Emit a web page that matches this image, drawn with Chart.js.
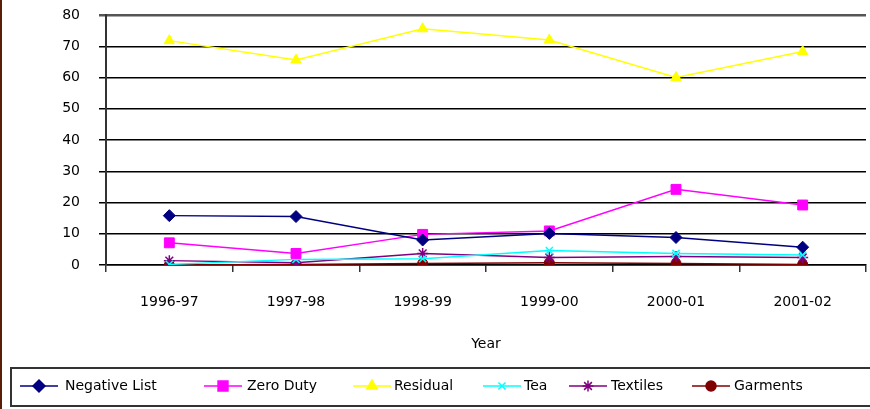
<!DOCTYPE html>
<html>
<head>
<meta charset="utf-8">
<script src="https://cdn.jsdelivr.net/npm/chart.js@4/dist/chart.umd.min.js"></script>
<style>
  html, body { margin: 0; padding: 0; background: #fff; overflow: hidden; }
  #wrap { position: relative; width: 870px; height: 409px; }
  #edge { position: absolute; left: 0; top: 0; width: 2px; height: 409px; background: #5a1e08; z-index: 2; }
  canvas { position: absolute; left: 0; top: 0; }
</style>
</head>
<body>
<div id="wrap">
  <div id="edge"></div>
  <canvas id="chart" width="874" height="409"></canvas>
</div>
<script>
// Categorias y series
const years = ["1996-97", "1997-98", "1998-99", "1999-00", "2000-01", "2001-02"];
const negativeList = [15.8, 15.5, 8.0, 10.1, 8.8, 5.7];
const zeroDuty = [7.1, 3.7, 9.8, 10.9, 24.2, 19.2];
const residual = [71.8, 65.6, 75.6, 72.0, 60.0, 68.3];
const tea = [0.2, 1.8, 2.0, 4.6, 3.7, 3.2];
const textiles = [1.4, 0.7, 3.7, 2.4, 2.7, 2.4];
const garments = [0.0, 0.2, 0.5, 0.7, 0.5, 0.2];
const yTicks = [0, 10, 20, 30, 40, 50, 60, 70, 80];

const FONT = "'DejaVu Sans', sans-serif";

function serie(label, data, color, style, radius) {
  return {
    label, data,
    borderColor: color,
    backgroundColor: color,
    pointBackgroundColor: color,
    pointBorderColor: color,
    pointStyle: style,
    pointRadius: radius,
    pointBorderWidth: style === "crossRot" || style === "star" ? 1.5 : 1,
    borderWidth: 1.5,
    tension: 0
  };
}

const datasets = [
  serie("Negative List", negativeList, "#000080", "rectRot", 6),
  serie("Zero Duty", zeroDuty, "#FF00FF", "rect", 7),
  serie("Residual", residual, "#FFFF00", "triangle", 6),
  serie("Tea", tea, "#00FFFF", "crossRot", 5),
  serie("Textiles", textiles, "#800080", "star", 5.5),
  serie("Garments", garments, "#800000", "circle", 5)
];

// Leyenda propia: linea + marcador dentro de un recuadro
const legendPos = [
  { line: 20, text: 65 },
  { line: 204, text: 247 },
  { line: 353, text: 394 },
  { line: 483, text: 524 },
  { line: 569, text: 611 },
  { line: 692, text: 734 }
];

const boxLegend = {
  id: "boxLegend",
  afterDraw(chart) {
    const ctx = chart.ctx;
    ctx.save();
    ctx.strokeStyle = "#333";
    ctx.lineWidth = 2;
    ctx.strokeRect(11, 368, 880, 38);
    const y = 386;
    chart.data.datasets.forEach((ds, i) => {
      const p = legendPos[i];
      ctx.strokeStyle = ds.borderColor;
      ctx.lineWidth = 1.5;
      ctx.beginPath();
      ctx.moveTo(p.line, y);
      ctx.lineTo(p.line + 38, y);
      ctx.stroke();
      ctx.fillStyle = ds.backgroundColor;
      ctx.strokeStyle = ds.borderColor;
      Chart.helpers.drawPoint(ctx, {
        pointStyle: ds.pointStyle,
        radius: ds.pointRadius,
        rotation: 0,
        borderWidth: ds.pointBorderWidth
      }, p.line + 19, y);
      ctx.fillStyle = "#000";
      ctx.font = "14px " + FONT;
      ctx.textBaseline = "middle";
      ctx.fillText(ds.label, p.text, y);
    });
    ctx.restore();
  }
};

new Chart(document.getElementById("chart"), {
  type: "line",
  data: { labels: years, datasets },
  plugins: [boxLegend],
  options: {
    responsive: false,
    animation: false,
    layout: { padding: { left: 0, right: 0, top: 15, bottom: 49 } },
    plugins: { legend: { display: false }, tooltip: { enabled: false } },
    scales: {
      x: {
        offset: true,
        grid: { offset: true, drawOnChartArea: false, color: "#333", lineWidth: 1.5, tickLength: 7 },
        border: { color: "#000", width: 1.5 },
        ticks: { color: "#000", font: { family: FONT, size: 14 }, padding: 22, maxRotation: 0 },
        title: { display: true, text: "Year", color: "#000", font: { family: FONT, size: 14 }, padding: { top: 15, bottom: 7 } },
        afterFit(scale) { scale.height = 95; scale.paddingLeft = 0; scale.paddingRight = 0; }
      },
      y: {
        min: 0, max: 80,
        afterBuildTicks(scale) { scale.ticks = yTicks.map(v => ({ value: v })); },
        grid: {
          color: ctx => ctx.tick && ctx.tick.value === 80 ? "#555" : "#000",
          lineWidth: ctx => ctx.tick && ctx.tick.value === 80 ? 2.5 : 1.5,
          tickLength: 7
        },
        border: { color: "#333", width: 2 },
        ticks: { color: "#000", font: { family: FONT, size: 14 }, padding: 19 },
        afterFit(scale) { scale.width = 106; scale.paddingTop = 0; scale.paddingBottom = 0; }
      }
    }
  }
});
</script>
</body>
</html>
